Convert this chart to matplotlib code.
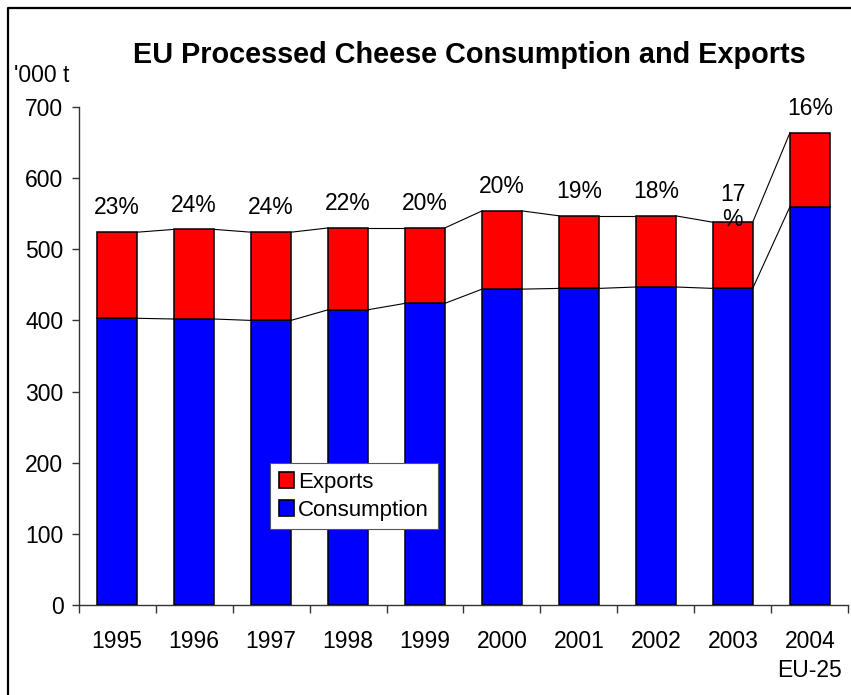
import matplotlib
matplotlib.use("Agg")
import matplotlib.pyplot as plt
from matplotlib.patches import Rectangle
from matplotlib.lines import Line2D

plt.rcParams["font.family"] = ["Liberation Sans", "DejaVu Sans"]

# ---- data ('000 t) ----
years = ["1995", "1996", "1997", "1998", "1999", "2000", "2001", "2002", "2003", "2004\nEU-25"]
consumption = [403, 402, 400, 415, 424, 444, 445, 447, 445, 560]
exports = [121, 126, 124, 115, 106, 110, 102, 100, 93, 104]

totals = [c + e for c, e in zip(consumption, exports)]
shares = [f"{round(100 * e / t)}%" for e, t in zip(exports, totals)]
shares[8] = shares[8][:-1] + "\n%"   # narrow slot -> label wraps

RED, BLUE = "#ff0000", "#0000ff"
W = 0.515
FS = 16.5

fig = plt.figure(figsize=(8.51, 6.95), dpi=100)
ax = fig.add_axes([78.7 / 851, 1 - 605 / 695, (848.3 - 78.7) / 851, (605 - 107) / 695])

x = list(range(len(years)))
ax.bar(x, consumption, width=W, color=BLUE, edgecolor="black", lw=1.1, zorder=3)
ax.bar(x, exports, width=W, bottom=consumption, color=RED, edgecolor="black", lw=1.1, zorder=3)

# series lines joining neighbouring bar tops
for series in (consumption, totals):
    for i in range(len(x) - 1):
        ax.plot([x[i] + W / 2, x[i + 1] - W / 2], [series[i], series[i + 1]],
                color="black", lw=0.8, zorder=2)

for i, (t, s) in enumerate(zip(totals, shares)):
    if "\n" in s:
        ax.annotate(s, (x[i], t), xytext=(0, 11), textcoords="offset points",
                    ha="center", va="center", fontsize=FS, linespacing=1.1)
    else:
        ax.annotate(s, (x[i], t), xytext=(0, 17.5), textcoords="offset points",
                    ha="center", va="center", fontsize=FS)

ax.set_xlim(-0.5, len(years) - 0.5)
ax.set_ylim(0, 700)
ax.set_yticks(range(0, 701, 100))
ax.set_xticks(x)
ax.set_xticklabels(years, fontsize=FS, linespacing=1.35, va="top")
ax.set_xticks([i - 0.5 for i in range(1, len(years) + 1)] + [-0.5], minor=True)
ax.tick_params(axis="x", which="major", length=0, pad=18)
ax.tick_params(axis="x", which="minor", length=6, width=1, color="#333333", direction="out")
ax.tick_params(axis="y", length=5, width=1, color="#333333", labelsize=FS, pad=6)
for side in ("top", "right"):
    ax.spines[side].set_visible(False)
for side in ("left", "bottom"):
    ax.spines[side].set_color("#333333")
    ax.spines[side].set_linewidth(1)

handles = [Rectangle((0, 0), 1, 1, fc=RED, ec="black", lw=1.2),
           Rectangle((0, 0), 1, 1, fc=BLUE, ec="black", lw=1.2)]
leg = fig.legend(handles, ["Exports", "Consumption"], loc="upper left",
                 bbox_to_anchor=(270 / 851, 1 - 463 / 695), fontsize=16,
                 fancybox=False, framealpha=1, edgecolor="#555555",
                 handlelength=0.7, handleheight=0.7, handletextpad=0.15,
                 borderpad=0.4, labelspacing=0.3, borderaxespad=0)
leg.get_frame().set_linewidth(0.8)

fig.text(469 / 851, 1 - 55 / 695, "EU Processed Cheese Consumption and Exports",
         ha="center", va="center", fontsize=20.8, fontweight="bold")
fig.text(14 / 851, 1 - 76 / 695, "'000 t", ha="left", va="center", fontsize=FS)

# outer chart border (left and top edges)
fig.add_artist(Line2D([8 / 851, 8 / 851, 1.0], [0.0, 1 - 8 / 695, 1 - 8 / 695],
                      transform=fig.transFigure, color="black", lw=1.6))

fig.savefig("out.png", dpi=100)
